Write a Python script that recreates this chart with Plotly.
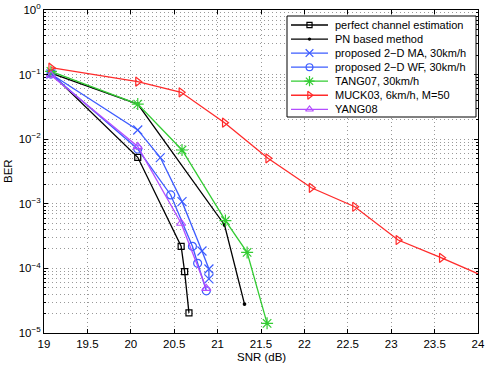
import plotly.graph_objects as go

# SNR (dB) et BER
snr_perfect = [19.08, 20.08, 20.58, 20.62, 20.67]
ber_perfect = [0.105, 5.25e-3, 2.2e-4, 8.9e-5, 2.05e-5]

snr_pn = [19.08, 20.08, 21.08, 21.31]
ber_pn = [0.105, 0.035, 4.7e-4, 2.8e-5]

snr_ma = [19.08, 20.08, 20.34, 20.59, 20.82, 20.90, 20.90]
ber_ma = [0.102, 0.0139, 5.2e-3, 1.08e-3, 1.86e-4, 9.8e-5, 6.9e-5]

snr_wf = [19.08, 20.08, 20.46, 20.71, 20.77, 20.87]
ber_wf = [0.102, 7.05e-3, 1.37e-3, 2.2e-4, 1.2e-4, 4.5e-5]

snr_tang = [19.08, 20.08, 20.59, 21.09, 21.34, 21.57]
ber_tang = [0.112, 0.035, 6.8e-3, 5.5e-4, 1.77e-4, 1.41e-5]

snr_muck = [19.08, 20.08, 20.58, 21.08, 21.58, 22.08, 22.58, 23.08, 23.58, 24.08]
ber_muck = [0.128, 0.0776, 0.0532, 0.018, 5.06e-3, 1.77e-3, 9.0e-4, 2.75e-4, 1.46e-4, 7.4e-5]

snr_yang = [19.08, 20.08, 20.58, 20.87]
ber_yang = [0.098, 7.7e-3, 5.0e-4, 4.9e-5]

x_ticks = [19, 19.5, 20, 20.5, 21, 21.5, 22, 22.5, 23, 23.5, 24]
y_exponents = [-5, -4, -3, -2, -1, 0]

series = [
    ("perfect channel estimation", snr_perfect, ber_perfect, "black", "square-open", 6),
    ("PN based method", snr_pn, ber_pn, "black", "circle", 2.5),
    ("proposed 2\u2212D MA, 30km/h", snr_ma, ber_ma, "#3d5cff", "x-thin-open", 9),
    ("proposed 2\u2212D WF, 30km/h", snr_wf, ber_wf, "#3d5cff", "circle-open", 8),
    ("TANG07, 30km/h", snr_tang, ber_tang, "#33cc33", "asterisk-open", 10),
    ("MUCK03, 6km/h, M=50", snr_muck, ber_muck, "#ff2b2b", "triangle-right-open", 8),
    ("YANG08", snr_yang, ber_yang, "#b34dff", "triangle-up-open", 8),
]

fig = go.Figure()
for name, x, y, color, symbol, size in series:
    fig.add_trace(go.Scatter(
        x=x, y=y, name=name, mode="lines+markers", showlegend=False,
        line=dict(color=color, width=1.3),
        marker=dict(symbol=symbol, size=size, color=color,
                    line=dict(color=color, width=1.2)),
    ))

# Légende dessinée à la main (la légende plotly impose des lignes de 19 px),
# sur des axes superposés exprimés en pixels de la zone de tracé
leg_x0, leg_x1, leg_y0, leg_y1 = 287, 476, 16, 117
fig.add_trace(go.Scatter(
    x=[leg_x0, leg_x1, leg_x1, leg_x0, leg_x0], y=[leg_y0, leg_y0, leg_y1, leg_y1, leg_y0],
    xaxis="x2", yaxis="y2", mode="lines", fill="toself", fillcolor="white",
    line=dict(color="black", width=1), showlegend=False, hoverinfo="skip",
))
for i, (name, x, y, color, symbol, size) in enumerate(series):
    row_y = 25 + 14.05 * i
    fig.add_trace(go.Scatter(
        x=[291, 328], y=[row_y, row_y], xaxis="x2", yaxis="y2", mode="lines",
        line=dict(color=color, width=1.3), showlegend=False, hoverinfo="skip",
    ))
    fig.add_trace(go.Scatter(
        x=[309.5], y=[row_y], xaxis="x2", yaxis="y2", mode="markers",
        marker=dict(symbol=symbol, size=size * 0.85, color=color,
                    line=dict(color=color, width=1.2)),
        showlegend=False, hoverinfo="skip",
    ))
    fig.add_annotation(x=333, y=row_y, xref="x2", yref="y2", text=name, showarrow=False,
                       xanchor="left", yanchor="middle", font=dict(size=11, color="black"))

axis_common = dict(
    showline=True, linecolor="black", linewidth=1, mirror="ticks",
    ticks="inside", ticklen=4, tickcolor="black",
    showgrid=True, gridcolor="#999999", gridwidth=1, griddash="1px,3px",
    zeroline=False, automargin=False,
    tickfont=dict(size=11.5, color="black"),
)

fig.update_layout(
    width=485, height=365,
    margin=dict(l=44, r=7, t=10, b=32),
    paper_bgcolor="white", plot_bgcolor="white",
    font=dict(family="Liberation Sans, Arial, sans-serif", size=11.5, color="black"),
    xaxis=dict(
        range=[19, 24], tickvals=x_ticks, ticktext=[f"{v:g}" for v in x_ticks],
        **axis_common,
    ),
    yaxis=dict(
        type="log", range=[-5, 0],
        tickvals=[10.0 ** e for e in y_exponents],
        ticktext=[f"10<sup>{'\u2212' if e < 0 else ''}{abs(e)}</sup>" for e in y_exponents],
        minor=dict(showgrid=True, gridcolor="#999999", gridwidth=1, griddash="1px,3px",
                   ticks="inside", ticklen=2, tickcolor="black", dtick="D1"),
        **axis_common,
    ),
    xaxis2=dict(overlaying="x", range=[44, 478], visible=False, fixedrange=True),
    yaxis2=dict(overlaying="y", range=[333, 10], visible=False, fixedrange=True),
    showlegend=False,
)
fig.add_annotation(text="SNR (dB)", x=0.5, y=-0.0743, xref="paper", yref="paper",
                   showarrow=False, yanchor="middle", font=dict(size=11.5))
fig.add_annotation(text="BER", x=-0.0841, y=0.5, xref="paper", yref="paper", textangle=-90,
                   showarrow=False, xanchor="center", font=dict(size=11.5))

# la page a une marge de 8 px par défaut : on la retire pour caler la figure
fig.write_html("out.html", config={"displayModeBar": False},
               post_script="document.body.style.margin='0px';")
